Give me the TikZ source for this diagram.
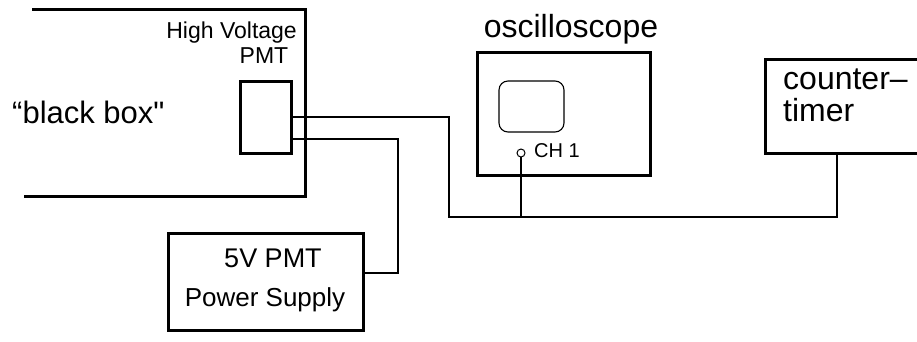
\documentclass[tikz,border=0pt]{standalone}
\usepackage{fontspec}
\setmainfont{Liberation Sans}
\newfontfamily\plainfont{Liberation Sans}
\begin{document}
\begin{tikzpicture}[x=1pt,y=-1pt,
  box/.style={draw,line width=3pt,inner sep=0pt,outer sep=0pt},
  wire/.style={line width=1.4pt},
  lbl/.style={inner sep=0pt,anchor=base}]
\useasboundingbox (0,0) rectangle (917,341);
% black box (open on the left)
\coordinate (bbtl) at (32,9);
\coordinate (bbtr) at (305,9);
\coordinate (bbbr) at (305,196);
\coordinate (bbbl) at (24,196);
\draw[line width=3pt] (bbtl) -- (bbtr) -- (bbbr) -- (bbbl);
\node[lbl,anchor=base east] (hv) at (297,38) {\fontsize{23}{25}\selectfont High Voltage};
\node[lbl] (pmtlbl) at (264,63) {\fontsize{23}{25}\selectfont PMT};
\node[lbl,anchor=base west] (bb) at (12,123) {\fontsize{31}{33}\plainfont “black box"};
% PMT
\node[box,minimum width=51pt,minimum height=72pt] (pmt) at (265.5,117) {};
% oscilloscope
\node[box,minimum width=173pt,minimum height=123pt] (osc) at (563.5,113.5) {};
\node[lbl] (osclbl) at (571,37) {\fontsize{32}{34}\selectfont oscilloscope};
\node[draw,line width=1.1pt,rounded corners=9pt,minimum width=65pt,minimum height=51pt,inner sep=0pt,outer sep=0pt] (screen) at (531.5,106.5) {};
\node[draw,circle,line width=1pt,minimum size=8pt,inner sep=0pt,outer sep=0pt] (ch) at (521,153) {};
\node[lbl,anchor=base west] (chlbl) at (534,157) {\fontsize{20}{22}\selectfont CH 1};
% counter-timer (open on the right)
\coordinate (cttr) at (917,59);
\coordinate (cttl) at (765,59);
\coordinate (ctbl) at (765,153);
\coordinate (ctbr) at (917,153);
\draw[line width=3pt] (cttr) -- (cttl) -- (ctbl) -- (ctbr);
\node[lbl,anchor=base west] (ct1) at (783,89) {\fontsize{32}{34}\selectfont counter–};
\node[lbl,anchor=base west] (ct2) at (783,121) {\fontsize{32}{34}\selectfont timer};
\coordinate (ctin) at (837,153);
% power supply
\node[box,minimum width=195pt,minimum height=97pt] (ps) at (265.5,281.5) {};
\node[lbl] (ps1) at (273,267) {\fontsize{27}{29}\selectfont 5V PMT};
\node[lbl] (ps2) at (265,306) {\fontsize{26}{28}\selectfont Power Supply};
% wires
\coordinate (j1) at (449,217);
\coordinate (j2) at (521,217);
\draw[wire] (pmt.east |- 0,117) -| (j1) -- (j2) -| (ctin);
\draw[wire] (ch.south) -- (j2);
\draw[wire] (pmt.east |- 0,139) -| (398,273) -- (ps.east |- 0,273);
\end{tikzpicture}
\end{document}
